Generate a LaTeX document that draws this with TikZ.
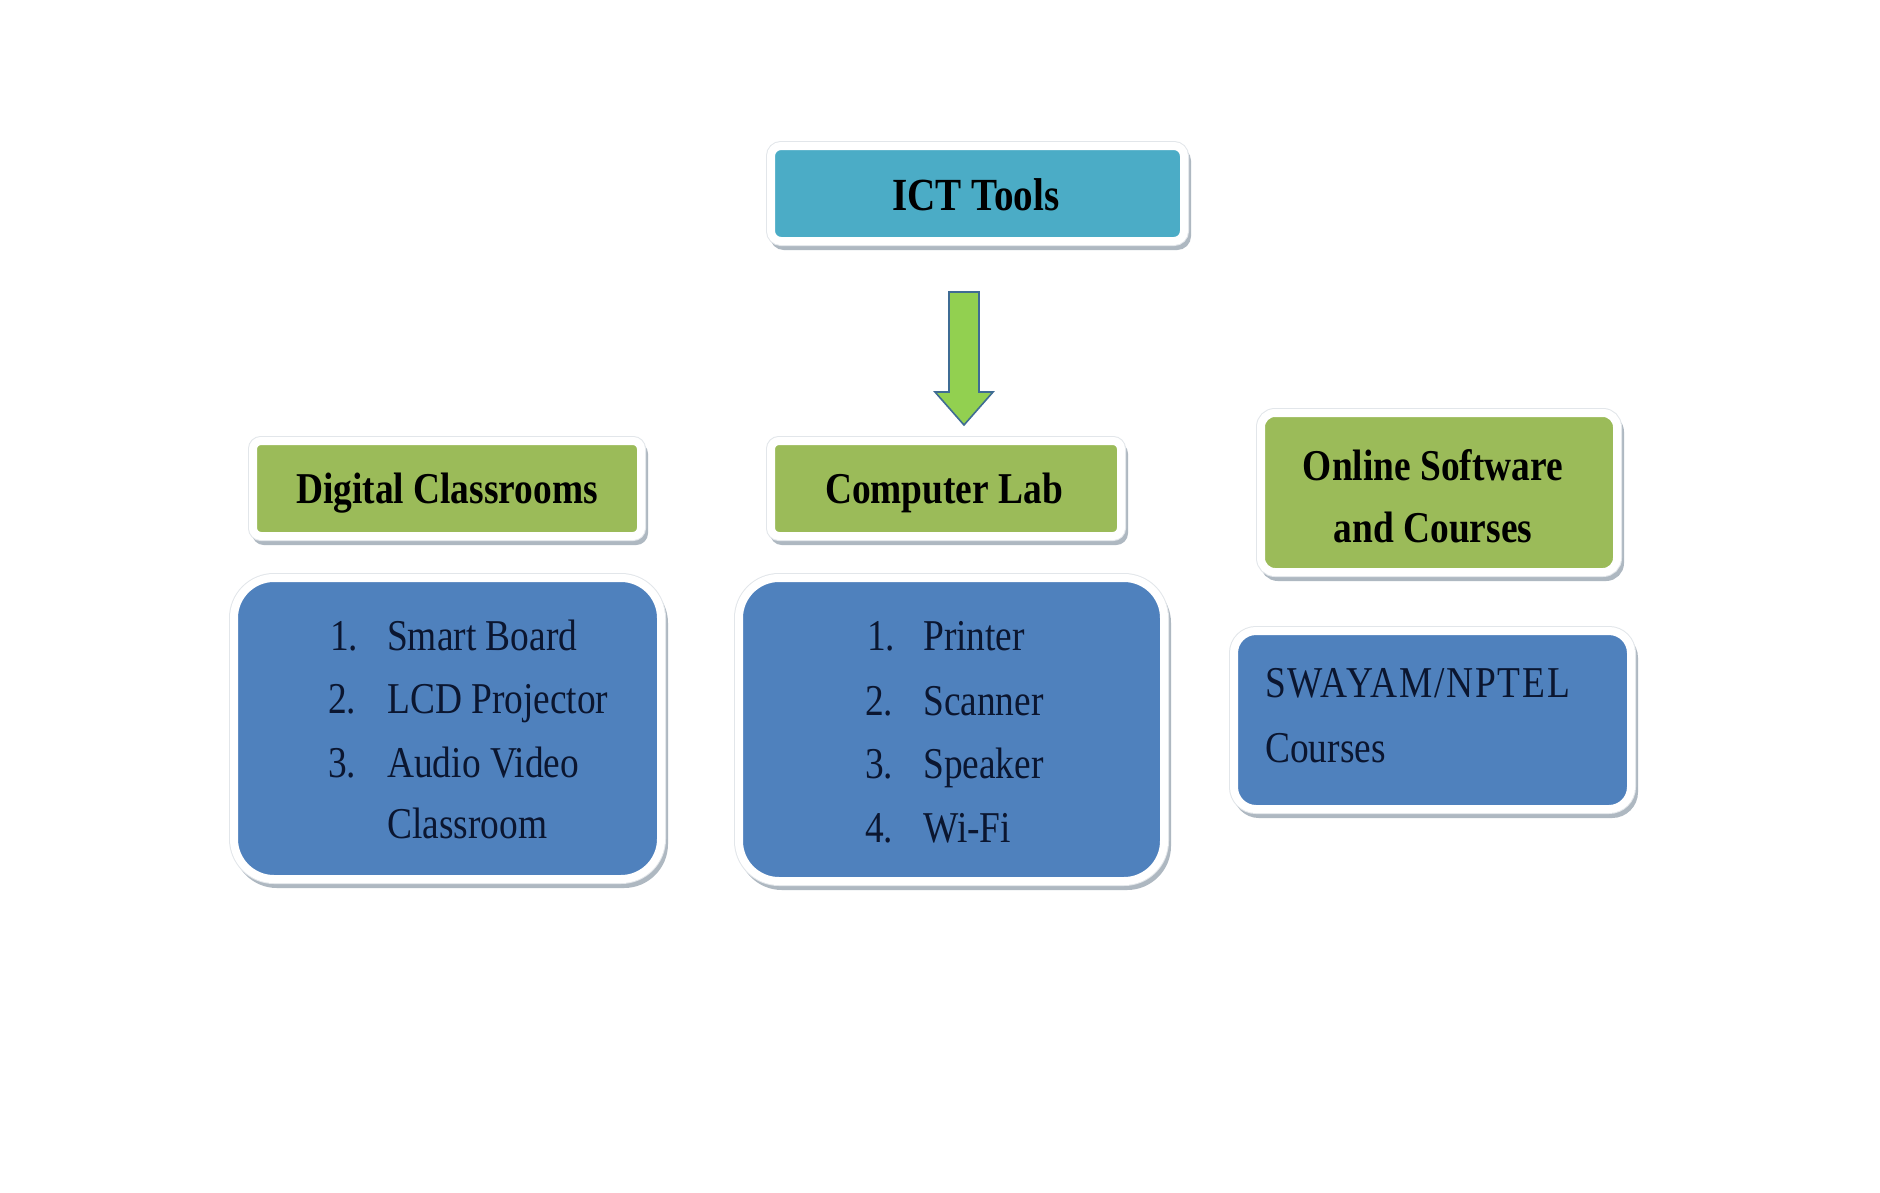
\documentclass[tikz,border=0pt]{standalone}
\usepackage{fontspec}
\setmainfont[FakeStretch=0.85]{Liberation Serif}
\definecolor{aquaF}{HTML}{4BACC6}
\definecolor{greenF}{HTML}{9BBB59}
\definecolor{blueF}{HTML}{4F81BD}
\definecolor{arrowF}{HTML}{92D050}
\definecolor{arrowD}{HTML}{3F6C94}
\definecolor{shadowC}{HTML}{AEB8C1}
\definecolor{edgeC}{HTML}{E2E6EA}
\definecolor{bodyT}{HTML}{0B1630}
\begin{document}
\begin{tikzpicture}[x=1pt,y=-1pt,
  framebox/.style={rectangle, rounded corners=#1, draw=white, line width=8pt, inner sep=0pt,
    preaction={draw=shadowC, fill=shadowC, line width=8pt, transform canvas={shift={(3pt,-5pt)}}},
    preaction={draw=edgeC, line width=10pt}},
  headtxt/.style={font=\fontsize{44}{62}\selectfont\bfseries, text=black, inner sep=0pt},
  listtxt/.style={font=\fontsize{44}{52}\selectfont, text=bodyT, inner sep=0pt, anchor=base west},
  arrowsty/.style={fill=arrowF, draw=arrowD, line width=1.6pt, line join=miter}
]
\useasboundingbox (0,0) rectangle (1880,1192);
\fill[white] (0,0) rectangle (1880,1192);

% ICT Tools
\node[framebox=10pt, fill=aquaF, minimum width=413pt, minimum height=95pt] (ict) at (977.5,193.5) {};
\node[headtxt, anchor=base, font=\fontsize{46}{60}\selectfont\bfseries] (ictT) at (976,210) {ICT Tools};

% arrow
\coordinate (arT) at (964,292);
\filldraw[arrowsty] (949,292) -- (979,292) -- (979,392) -- (993,392) -- (964,425) -- (935,392) -- (949,392) -- cycle;

% Digital Classrooms
\node[framebox=8pt, fill=greenF, minimum width=388pt, minimum height=95pt] (dc) at (447,488.5) {};
\node[headtxt, anchor=base] (dcT) at (447,503) {Digital Classrooms};
\node[framebox=40pt, fill=blueF, minimum width=427pt, minimum height=301pt] (dcb) at (447.5,728.5) {};
\node[listtxt] (d1n) at (330,650) {1.};
\node[listtxt] (d1) at (387,650) {Smart Board};
\node[listtxt] (d2n) at (328,713) {2.};
\node[listtxt] (d2) at (387,713) {LCD Projector};
\node[listtxt] (d3n) at (328,777) {3.};
\node[listtxt] (d3) at (387,777) {Audio Video};
\node[listtxt] (d4) at (387,838) {Classroom};

% Computer Lab
\node[framebox=8pt, fill=greenF, minimum width=350pt, minimum height=95pt] (cl) at (946,488.5) {};
\node[headtxt, anchor=base] (clT) at (944,503) {Computer Lab};
\node[framebox=40pt, fill=blueF, minimum width=425pt, minimum height=303pt] (clb) at (951.5,729.5) {};
\node[listtxt] (c1n) at (867,650) {1.};
\node[listtxt] (c1) at (923,650) {Printer};
\node[listtxt] (c2n) at (865,715) {2.};
\node[listtxt] (c2) at (923,715) {Scanner};
\node[listtxt] (c3n) at (865,778) {3.};
\node[listtxt] (c3) at (923,778) {Speaker};
\node[listtxt] (c4n) at (865,842) {4.};
\node[listtxt] (c4) at (923,842) {Wi-Fi};

% Online Software and Courses
\node[framebox=14pt, fill=greenF, minimum width=356pt, minimum height=159pt] (os) at (1439,492.5) {};
\node[headtxt, anchor=base] (osT1) at (1433,480) {Online Software};
\node[headtxt, anchor=base] (osT2) at (1433,542) {and Courses};
\node[framebox=22pt, fill=blueF, minimum width=397pt, minimum height=178pt] (swb) at (1432.5,720) {};
\node[listtxt] (sw1) at (1265,697) {\addfontfeature{LetterSpace=4}SWAYAM/NPTEL};
\node[listtxt] (sw2) at (1265,762) {Courses};
\end{tikzpicture}
\end{document}
